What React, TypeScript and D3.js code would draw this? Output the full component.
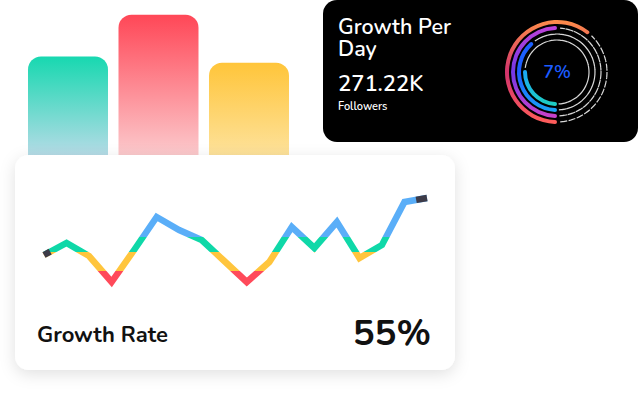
import React, { useMemo } from 'react'
import * as d3 from 'd3'

// bar heights (behind the card)
const barNames = ['A', 'B', 'C']
const barValues = [71, 97, 67]
const barTop = ['#17d8b0', '#ff4757', '#ffc53a']
const barBottom = ['#d5dcf1', '#fbdcdd', '#fde8b0']

// ring progress (percent of full circle)
const ringValues = [61, 50, 39, 26]
const ringRadius = [50, 44, 38, 32]

// growth rate line
const ratePoints = [35, 47, 34, 8, 40, 73, 60, 50, 29, 8, 28, 63, 42, 68, 32, 45, 88, 92]

const rateLabel = 'Growth Rate'
const rateValue = '55%'
const FONT = 'Nunito, Lato, "Open Sans", sans-serif'

const App: React.FC = () => {
  const width = 640
  const height = 395

  const xBar = d3.scaleBand<string>().domain(barNames).range([28, 289]).paddingInner(0.116).paddingOuter(0)
  const yBar = d3.scaleLinear().domain([0, 100]).range([170, 10])

  const xLine = d3.scaleLinear().domain([0, ratePoints.length - 1]).range([44, 427])
  const yLine = d3.scaleLinear().domain([0, 100]).range([290, 190])

  const linePath = useMemo(
    () => d3.line<number>().x((d, i) => xLine(i)).y(d => yLine(d))(ratePoints) || '',
    []
  )

  // dark end stubs
  const stub = (i0: number, i1: number, len: number) => {
    const x0 = xLine(i0), y0 = yLine(ratePoints[i0])
    const x1 = xLine(i1), y1 = yLine(ratePoints[i1])
    const d = Math.hypot(x1 - x0, y1 - y0)
    const t = len / d
    return `M${x0},${y0}L${x0 + (x1 - x0) * t},${y0 + (y1 - y0) * t}`
  }
  const n = ratePoints.length

  const cx = 557
  const cy = 72
  const arcGen = d3.arc<any>().cornerRadius(2)
  const ringGrads = [
    ['#ff8d4a', '#d2336c', '#ff5e5a'],
    ['#c744d6', '#7438e6', '#d443c4'],
    ['#1b64ff', '#1d5dff', '#19b8f2'],
    ['#1f74ff', '#1aa8f5', '#20e3a6']
  ]

  return (
    <svg width={width} height={height} style={{ position: 'absolute', left: 0, top: 0, background: '#fff' }}>
      <defs>
        {barNames.map((b, i) => (
          <linearGradient key={b} id={`bar${i}`} x1="0" y1="0" x2="0" y2="1">
            <stop offset="0" stopColor={barTop[i]} />
            <stop offset="1" stopColor={barBottom[i]} />
          </linearGradient>
        ))}
        {ringGrads.map((g, i) => (
          <linearGradient key={i} id={`ring${i}`} gradientUnits="userSpaceOnUse" x1="0" y1="-52" x2="0" y2="52">
            <stop offset="0" stopColor={g[0]} />
            <stop offset="0.5" stopColor={g[1]} />
            <stop offset="1" stopColor={g[2]} />
          </linearGradient>
        ))}
        <linearGradient id="rate" gradientUnits="userSpaceOnUse" x1="0" y1="190" x2="0" y2="290">
          <stop offset="0.47" stopColor="#5aaef8" />
          <stop offset="0.47" stopColor="#0fd8a8" />
          <stop offset="0.62" stopColor="#0fd8a8" />
          <stop offset="0.62" stopColor="#ffc53d" />
          <stop offset="0.81" stopColor="#ffc53d" />
          <stop offset="0.81" stopColor="#ff4a5a" />
        </linearGradient>
        <filter id="shadow" x="-15%" y="-20%" width="130%" height="145%">
          <feDropShadow dx="0" dy="4" stdDeviation="8" floodColor="#000" floodOpacity="0.12" />
        </filter>
      </defs>

      {/* bars */}
      {barNames.map((b, i) => (
        <rect
          key={b}
          x={xBar(b)}
          y={yBar(barValues[i])}
          width={xBar.bandwidth()}
          height={175 - yBar(barValues[i])}
          rx={13}
          fill={`url(#bar${i})`}
        />
      ))}

      {/* dark card */}
      <rect x={323} y={0} width={315} height={142} rx={14} fill="#000" />
      <text x={338} y={34} fill="#fff" fontFamily={FONT} fontSize={21.5} fontWeight={600}>Growth Per</text>
      <text x={338} y={56} fill="#fff" fontFamily={FONT} fontSize={21.5} fontWeight={600}>Day</text>
      <text x={338} y={91} fill="#fff" fontFamily={FONT} fontSize={22} fontWeight={600}>271.22K</text>
      <text x={338} y={110} fill="#fff" fontFamily={FONT} fontSize={11} fontWeight={600}>Followers</text>

      <g transform={`translate(${cx},${cy})`}>
        {ringValues.map((v, i) => {
          const end = Math.PI + (v / 100) * 2 * Math.PI
          const r = ringRadius[i]
          return (
            <g key={i}>
              <path
                d={d3.arc<any>()({ innerRadius: r, outerRadius: r, startAngle: end + 0.07, endAngle: Math.PI * 3 - 0.05 }) || ''}
                fill="none"
                stroke="#d8d8d8"
                strokeWidth={1.2}
                strokeDasharray="5 3.5"
              />
              <path
                d={arcGen({ innerRadius: r - 2, outerRadius: r + 2, startAngle: Math.PI, endAngle: end }) || ''}
                fill={`url(#ring${i})`}
              />
            </g>
          )
        })}
      </g>
      <text x={cx} y={77.5} textAnchor="middle" fill="#1c5cff" fontFamily={FONT} fontSize={18} fontWeight={600}>7%</text>

      {/* white card */}
      <rect x={15} y={155} width={440} height={215} rx={14} fill="#fff" filter="url(#shadow)" />
      <path d={linePath} fill="none" stroke="url(#rate)" strokeWidth={6.5} strokeLinejoin="miter" />
      <path d={stub(0, 1, 7)} stroke="#3d3b48" strokeWidth={6.5} fill="none" />
      <path d={stub(n - 1, n - 2, 11)} stroke="#3d3b48" strokeWidth={6.5} fill="none" />

      <text x={37} y={342} fill="#111" fontFamily={FONT} fontSize={22} fontWeight={700}>{rateLabel}</text>
      <text x={431} y={345} textAnchor="end" fill="#111" fontFamily={FONT} fontSize={36.5} fontWeight={700}>{rateValue}</text>
    </svg>
  )
}

export default App
